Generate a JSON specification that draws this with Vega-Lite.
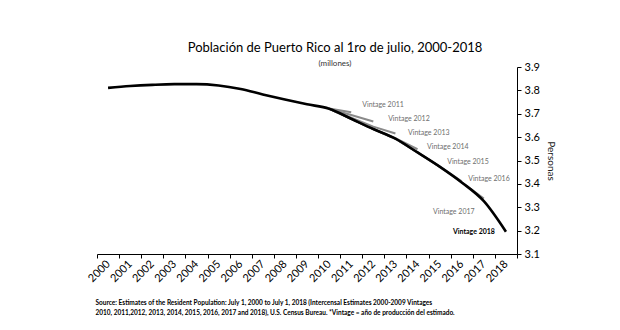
{
  "$schema": "https://vega.github.io/schema/vega-lite/v6.json",
  "width": 420,
  "height": 187,
  "autosize": {"type": "none"},
  "padding": {"left": 97, "top": 67, "right": 103, "bottom": 76},
  "background": "white",
  "config": {
    "view": {"stroke": null},
    "font": "Lato",
    "axis": {"grid": false, "domainColor": "black", "tickColor": "black", "labelColor": "black", "labelFont": "Lato", "titleFont": "Lato", "labelOverlap": false},
    "axisY": {"labelOverlap": false}
  },
  "title": {
    "text": "Población de Puerto Rico al 1ro de julio, 2000-2018",
    "subtitle": "(millones)",
    "anchor": "middle",
    "frame": "group",
    "dx": 28,
    "fontSize": 13,
    "fontWeight": "normal",
    "color": "black",
    "subtitleFontSize": 8,
    "subtitleColor": "#333",
    "subtitlePadding": 5,
    "offset": -7
  },
  "datasets": {
    "series": [
      {"year": 2010, "value": 3.7226, "vintage": "2011"},
      {"year": 2011, "value": 3.7066, "vintage": "2011"},
      {"year": 2010, "value": 3.7217, "vintage": "2012"},
      {"year": 2011, "value": 3.6949, "vintage": "2012"},
      {"year": 2012, "value": 3.6671, "vintage": "2012"},
      {"year": 2010, "value": 3.7217, "vintage": "2013"},
      {"year": 2011, "value": 3.6831, "vintage": "2013"},
      {"year": 2012, "value": 3.6448, "vintage": "2013"},
      {"year": 2013, "value": 3.6155, "vintage": "2013"},
      {"year": 2010, "value": 3.7217, "vintage": "2014"},
      {"year": 2011, "value": 3.6783, "vintage": "2014"},
      {"year": 2012, "value": 3.6349, "vintage": "2014"},
      {"year": 2013, "value": 3.5953, "vintage": "2014"},
      {"year": 2014, "value": 3.5482, "vintage": "2014"},
      {"year": 2010, "value": 3.7216, "vintage": "2015"},
      {"year": 2011, "value": 3.6783, "vintage": "2015"},
      {"year": 2012, "value": 3.6343, "vintage": "2015"},
      {"year": 2013, "value": 3.5931, "vintage": "2015"},
      {"year": 2014, "value": 3.5347, "vintage": "2015"},
      {"year": 2015, "value": 3.4741, "vintage": "2015"},
      {"year": 2010, "value": 3.7216, "vintage": "2016"},
      {"year": 2011, "value": 3.6784, "vintage": "2016"},
      {"year": 2012, "value": 3.6347, "vintage": "2016"},
      {"year": 2013, "value": 3.5933, "vintage": "2016"},
      {"year": 2014, "value": 3.5344, "vintage": "2016"},
      {"year": 2015, "value": 3.4738, "vintage": "2016"},
      {"year": 2016, "value": 3.4112, "vintage": "2016"},
      {"year": 2010, "value": 3.7216, "vintage": "2017"},
      {"year": 2011, "value": 3.6784, "vintage": "2017"},
      {"year": 2012, "value": 3.6347, "vintage": "2017"},
      {"year": 2013, "value": 3.5933, "vintage": "2017"},
      {"year": 2014, "value": 3.5344, "vintage": "2017"},
      {"year": 2015, "value": 3.4737, "vintage": "2017"},
      {"year": 2016, "value": 3.4063, "vintage": "2017"},
      {"year": 2017, "value": 3.3372, "vintage": "2017"}
    ],
    "main": [
      {"year": 2000, "value": 3.8106},
      {"year": 2001, "value": 3.8185},
      {"year": 2002, "value": 3.8236},
      {"year": 2003, "value": 3.8266},
      {"year": 2004, "value": 3.8267},
      {"year": 2005, "value": 3.8210},
      {"year": 2006, "value": 3.8057},
      {"year": 2007, "value": 3.7826},
      {"year": 2008, "value": 3.7606},
      {"year": 2009, "value": 3.7404},
      {"year": 2010, "value": 3.7216},
      {"year": 2011, "value": 3.6784},
      {"year": 2012, "value": 3.6347},
      {"year": 2013, "value": 3.5933},
      {"year": 2014, "value": 3.5344},
      {"year": 2015, "value": 3.4737},
      {"year": 2016, "value": 3.4062},
      {"year": 2017, "value": 3.3259},
      {"year": 2018, "value": 3.1953}
    ],
    "labels": [
      {"lx": 2011.5, "ly": 3.738, "label": "Vintage 2011", "kind": "old"},
      {"lx": 2012.67, "ly": 3.678, "label": "Vintage 2012", "kind": "old"},
      {"lx": 2013.57, "ly": 3.618, "label": "Vintage 2013", "kind": "old"},
      {"lx": 2014.43, "ly": 3.558, "label": "Vintage 2014", "kind": "old"},
      {"lx": 2015.34, "ly": 3.494, "label": "Vintage 2015", "kind": "old"},
      {"lx": 2016.29, "ly": 3.421, "label": "Vintage 2016", "kind": "old"},
      {"lx": 2014.7, "ly": 3.28, "label": "Vintage 2017", "kind": "old"}
    ],
    "labels18": [
      {"lx": 2015.6, "ly": 3.195, "label": "Vintage 2018"}
    ]
  },
  "resolve": {"axis": {"x": "independent", "y": "independent"}},
  "layer": [
    {
      "data": {"name": "series"},
      "mark": {"type": "line", "color": "#8a8a8a", "strokeWidth": 2},
      "encoding": {
        "x": {
          "field": "year", "type": "quantitative",
          "scale": {"domain": [1999.5, 2018.5], "nice": false, "zero": false},
          "axis": {
            "orient": "bottom",
            "values": [1999.5, 2000.5, 2001.5, 2002.5, 2003.5, 2004.5, 2005.5, 2006.5, 2007.5, 2008.5, 2009.5, 2010.5, 2011.5, 2012.5, 2013.5, 2014.5, 2015.5, 2016.5, 2017.5, 2018.5],
            "labels": false,
            "tickSize": 4,
            "domainWidth": 1,
            "title": ["Source: Estimates of the Resident Population: July 1, 2000 to July 1, 2018 (Intercensal Estimates 2000-2009 Vintages", "2010, 2011,2012, 2013, 2014, 2015, 2016, 2017 and 2018), U.S. Census Bureau.  *Vintage = año de producción del estimado."],
            "titleFontSize": 6.5,
            "titleFontWeight": "bold",
            "titleColor": "black",
            "titleAlign": "left",
            "titleAnchor": "start",
            "titleBaseline": "alphabetic",
            "titleX": -2,
            "titleY": 50,
            "titleLineHeight": 10.5
          }
        },
        "y": {
          "field": "value", "type": "quantitative",
          "scale": {"domain": [3.1, 3.9], "nice": false, "zero": false},
          "axis": {
            "orient": "right",
            "values": [3.1, 3.2, 3.3, 3.4, 3.5, 3.6, 3.7, 3.8, 3.9],
            "format": ".1f",
            "labelOverlap": false,
            "labelFlush": false,
            "tickSize": 4,
            "labelFontSize": 11,
            "labelPadding": 3,
            "title": "Personas",
            "titleFontSize": 10,
            "titleFontWeight": "normal",
            "titleColor": "#222",
            "titlePadding": 6
          }
        },
        "detail": {"field": "vintage"}
      }
    },
    {
      "data": {"name": "main"},
      "mark": {"type": "line", "color": "black", "strokeWidth": 2.6, "interpolate": "monotone"},
      "encoding": {
        "x": {
          "field": "year", "type": "quantitative",
          "axis": {
            "orient": "bottom",
            "values": [2000, 2001, 2002, 2003, 2004, 2005, 2006, 2007, 2008, 2009, 2010, 2011, 2012, 2013, 2014, 2015, 2016, 2017, 2018],
            "format": "d",
            "ticks": false,
            "domain": false,
            "labelAngle": -45,
            "labelAlign": "right",
            "labelBaseline": "middle",
            "labelFontSize": 11,
            "labelPadding": 8,
            "title": null
          }
        },
        "y": {"field": "value", "type": "quantitative", "axis": null}
      }
    },
    {
      "data": {"name": "labels"},
      "mark": {"type": "text", "align": "left", "baseline": "middle", "fontSize": 7, "color": "#6e6e6e"},
      "encoding": {
        "x": {"field": "lx", "type": "quantitative", "axis": null},
        "y": {"field": "ly", "type": "quantitative", "axis": null},
        "text": {"field": "label"}
      }
    },
    {
      "data": {"name": "labels18"},
      "mark": {"type": "text", "align": "left", "baseline": "middle", "fontSize": 7, "fontWeight": "bold", "color": "black"},
      "encoding": {
        "x": {"field": "lx", "type": "quantitative", "axis": null},
        "y": {"field": "ly", "type": "quantitative", "axis": null},
        "text": {"field": "label"}
      }
    }
  ]
}
